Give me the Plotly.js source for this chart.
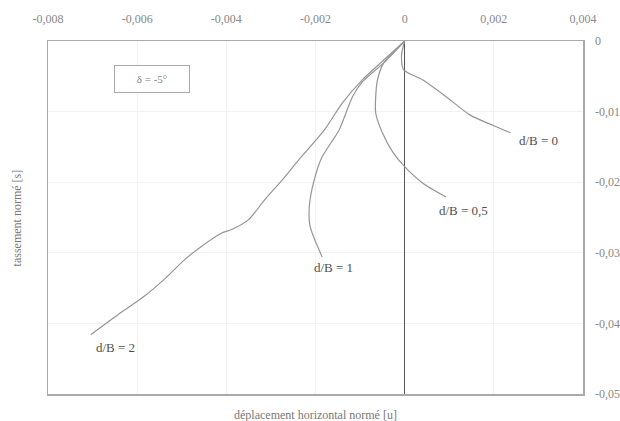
<!DOCTYPE html>
<html><head><meta charset="utf-8">
<script src="https://cdn.plot.ly/plotly-3.0.1.min.js"></script>
<style>html,body{margin:0;padding:0;background:#fff}#c{width:620px;height:421px}</style>
</head><body><div id="c"></div>
<script>
// d/B = 0
const u0 = [0, -0.00007, -0.00002, 0.0004, 0.00093, 0.00147, 0.002, 0.00237];
const s0 = [0, -0.002, -0.0041, -0.0055, -0.0079, -0.0105, -0.012, -0.013];
// d/B = 0,5
const u05 = [0, -0.00027, -0.00047, -0.00061, -0.00065, -0.00065, -0.0005, -0.00027, 0, 0.0004, 0.00093];
const s05 = [0, -0.0017, -0.0031, -0.0055, -0.0079, -0.0102, -0.013, -0.0157, -0.0178, -0.0201, -0.0221];
// d/B = 1
const u1 = [0, -0.00047, -0.00095, -0.00117, -0.00147, -0.00185, -0.00203, -0.00214, -0.00212, -0.00185];
const s1 = [0, -0.0031, -0.0058, -0.0079, -0.0126, -0.0164, -0.0197, -0.0235, -0.0263, -0.0306];
// d/B = 2
const u2 = [0, -0.00047, -0.00095, -0.0014, -0.0018, -0.00237, -0.00275, -0.00314, -0.0035, -0.00388, -0.0041, -0.00456, -0.00494, -0.0054, -0.00585, -0.00637, -0.00704];
const s2 = [0, -0.0027, -0.0055, -0.0088, -0.0126, -0.0168, -0.0197, -0.0225, -0.0253, -0.0267, -0.0272, -0.0291, -0.031, -0.0338, -0.0362, -0.0385, -0.0416];

const curveLabels = ['d/B = 0', 'd/B = 0,5', 'd/B = 1', 'd/B = 2'];
const labelX = [0.003, 0.00131, -0.0016, -0.00648];
const labelY = [-0.0141, -0.024, -0.0321, -0.0434];

const xTickVals = [-0.008, -0.006, -0.004, -0.002, 0, 0.002, 0.004];
const xTickText = ['-0,008', '-0,006', '-0,004', '-0,002', '0', '0,002', '0,004'];
const yTickVals = [0, -0.01, -0.02, -0.03, -0.04, -0.05];
const yTickText = ['0', '-0,01', '-0,02', '-0,03', '-0,04', '-0,05'];

const lineStyle = {color: '#959595', width: 1.2, shape: 'spline', smoothing: 0.7};
const series = [[u0, s0], [u05, s05], [u1, s1], [u2, s2]];
const traces = series.map((p, i) => ({
  x: p[0], y: p[1], type: 'scatter', mode: 'lines', line: lineStyle,
  name: curveLabels[i], hoverinfo: 'skip'
}));

const fontSerif = 'Liberation Serif, DejaVu Serif, serif';
const annotations = curveLabels.map((t, i) => ({
  x: labelX[i], y: labelY[i], xref: 'x', yref: 'y', text: t, showarrow: false,
  font: {family: fontSerif, size: 13, color: '#505050'}
}));
annotations.push({
  x: -0.00567, y: -0.0054, xref: 'x', yref: 'y', text: 'δ = -5°', showarrow: false,
  font: {family: fontSerif, size: 11, color: '#808080'},
  bordercolor: '#aaa', borderwidth: 1, borderpad: 6, width: 62, height: 14, bgcolor: '#fff'
});
annotations.push({
  x: 0.5, y: -0.035, xref: 'paper', yref: 'paper', yanchor: 'top',
  text: 'déplacement horizontal normé [u]', showarrow: false,
  font: {family: fontSerif, size: 12, color: '#777'}
});
annotations.push({
  x: -0.075, y: 0.5, xref: 'paper', yref: 'paper', textangle: -90,
  text: 'tassement normé [s]', showarrow: false,
  font: {family: fontSerif, size: 12, color: '#777'}
});

const layout = {
  width: 620, height: 421,
  margin: {l: 48, r: 37, t: 41, b: 27},
  paper_bgcolor: '#fff', plot_bgcolor: '#fff',
  showlegend: false,
  xaxis: {
    side: 'top', range: [-0.008, 0.004], tickvals: xTickVals, ticktext: xTickText,
    showgrid: true, gridcolor: '#f2f2f2', zeroline: true, zerolinecolor: '#555', zerolinewidth: 1.2,
    showline: true, linecolor: '#aaa', linewidth: 1.5, mirror: true, ticks: '',
    ticklabelstandoff: 12,
    tickfont: {family: fontSerif, size: 12, color: '#888'}, fixedrange: true
  },
  yaxis: {
    side: 'right', range: [-0.05, 0], tickvals: yTickVals, ticktext: yTickText,
    showgrid: true, gridcolor: '#f2f2f2', zeroline: false,
    showline: true, linecolor: '#aaa', linewidth: 1.5, mirror: true, ticks: '',
    ticklabelstandoff: 8,
    tickfont: {family: fontSerif, size: 12, color: '#888'}, fixedrange: true
  },
  annotations: annotations
};

Plotly.newPlot('c', traces, layout, {displayModeBar: false, staticPlot: true});
</script></body></html>
